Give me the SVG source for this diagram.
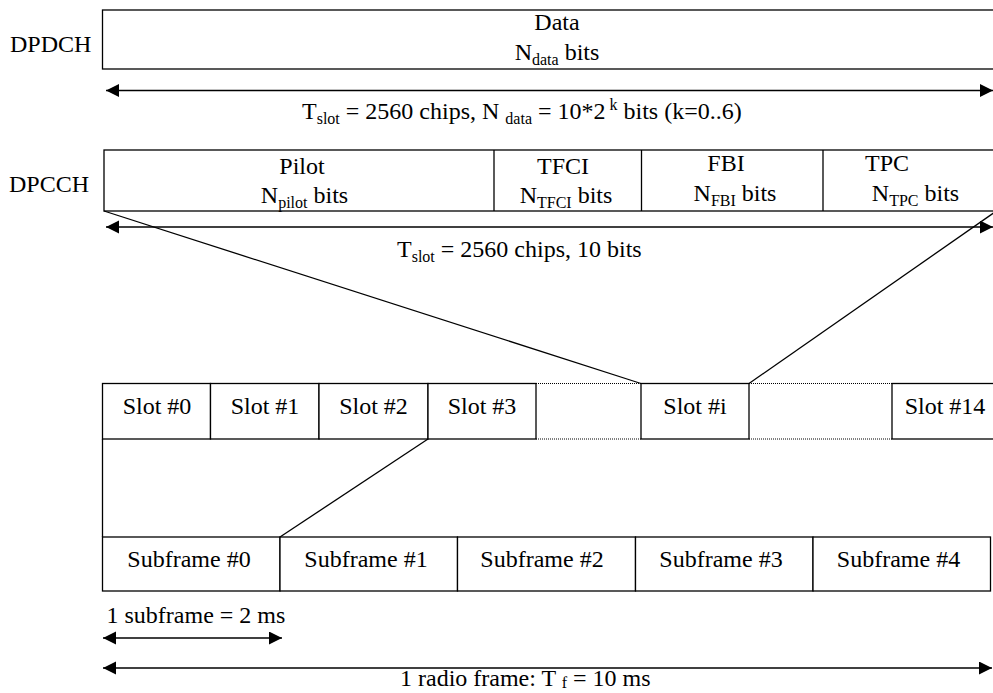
<svg xmlns="http://www.w3.org/2000/svg" width="993" height="693" viewBox="0 0 993 693">
<defs>
<style>
text{font-family:"Liberation Serif","Times New Roman",serif;font-size:24px;fill:#000}
.m{text-anchor:middle}
.box{fill:#fff;stroke:#000;stroke-width:1.3}
.ln{stroke:#000;stroke-width:1.3;fill:none}
.dot{stroke:#000;stroke-width:1;stroke-dasharray:1 1;fill:none}
.arr{stroke:#000;stroke-width:1.3;fill:none;marker-start:url(#ah);marker-end:url(#ah)}
</style>
<marker id="ah" markerUnits="userSpaceOnUse" markerWidth="14" markerHeight="14" refX="13" refY="6.5" orient="auto-start-reverse">
<path d="M0,0 L13,6.5 L0,13 z" fill="#000"/>
</marker>
</defs>
<rect width="993" height="693" fill="#fff"/>

<g id="dpdch">
<text x="10" y="52">DPDCH</text>
<rect class="box" x="102.5" y="10" width="910" height="59"/>
<text class="m" x="557" y="30">Data</text>
<text class="m" x="557" y="60">N<tspan font-size="16" dy="5">data</tspan><tspan dy="-5"> bits</tspan></text>
</g>

<g id="dpcch">
<text x="9" y="192">DPCCH</text>
<rect class="box" x="104" y="150" width="910" height="61"/>
<line class="ln" x1="494" y1="150" x2="494" y2="211"/>
<line class="ln" x1="641.5" y1="150" x2="641.5" y2="211"/>
<line class="ln" x1="823" y1="150" x2="823" y2="211"/>
<text class="m" x="302" y="174">Pilot</text>
<text class="m" x="304.5" y="203">N<tspan font-size="16" dy="5">pilot</tspan><tspan dy="-5"> bits</tspan></text>
<text class="m" x="563" y="174">TFCI</text>
<text class="m" x="566" y="203">N<tspan font-size="16" dy="5">TFCI</tspan><tspan dy="-5"> bits</tspan></text>
<text class="m" x="726" y="171">FBI</text>
<text class="m" x="735" y="201">N<tspan font-size="16" dy="5">FBI</tspan><tspan dy="-5"> bits</tspan></text>
<text class="m" x="887" y="171">TPC</text>
<text class="m" x="915.5" y="201">N<tspan font-size="16" dy="5">TPC</tspan><tspan dy="-5"> bits</tspan></text>
</g>

<g id="slots">
<rect class="box" x="102.5" y="383.5" width="108" height="55.5"/>
<rect class="box" x="210.5" y="383.5" width="108.5" height="55.5"/>
<rect class="box" x="319" y="383.5" width="109" height="55.5"/>
<rect class="box" x="428" y="383.5" width="108" height="55.5"/>
<rect class="box" x="641" y="383.5" width="108" height="55.5"/>
<rect class="box" x="892" y="383.5" width="110" height="55.5"/>
<line class="dot" x1="536" y1="383.5" x2="641" y2="383.5"/>
<line class="dot" x1="536" y1="439" x2="641" y2="439"/>
<line class="dot" x1="749" y1="383.5" x2="892" y2="383.5"/>
<line class="dot" x1="749" y1="439" x2="892" y2="439"/>
<text class="m" x="157" y="414">Slot #0</text>
<text class="m" x="265" y="414">Slot #1</text>
<text class="m" x="373.5" y="414">Slot #2</text>
<text class="m" x="482" y="414">Slot #3</text>
<text class="m" x="695" y="414">Slot #i</text>
<text class="m" x="945" y="414">Slot #14</text>
</g>

<g id="subframes">
<rect class="box" x="102.5" y="537" width="177.5" height="54"/>
<rect class="box" x="280" y="537" width="177.5" height="54"/>
<rect class="box" x="457.5" y="537" width="178" height="54"/>
<rect class="box" x="635.5" y="537" width="177.5" height="54"/>
<rect class="box" x="813" y="537" width="177.5" height="54"/>
<text class="m" x="189" y="567">Subframe #0</text>
<text class="m" x="366" y="567">Subframe #1</text>
<text class="m" x="542" y="567">Subframe #2</text>
<text class="m" x="721" y="567">Subframe #3</text>
<text class="m" x="898.5" y="567">Subframe #4</text>
</g>

<g id="connectors">
<line class="arr" x1="106" y1="90.5" x2="993" y2="90.5"/>
<line class="arr" x1="106" y1="227" x2="993" y2="227"/>
<line class="ln" x1="104" y1="211" x2="641" y2="383.5"/>
<line class="ln" x1="749" y1="383.5" x2="995" y2="212"/>
<line class="ln" x1="102.5" y1="439" x2="102.5" y2="537"/>
<line class="ln" x1="428" y1="439" x2="280" y2="537"/>
<line class="arr" x1="103" y1="638" x2="282" y2="638"/>
<line class="arr" x1="103" y1="668" x2="992" y2="668"/>
</g>

<g id="labels">
<text x="302" y="119">T<tspan font-size="16" dy="5">slot</tspan><tspan dy="-5"> = 2560 chips, N </tspan><tspan font-size="16" dy="5">data</tspan><tspan dy="-5"> = 10*2</tspan><tspan font-size="16" dy="-9"> k</tspan><tspan dy="9"> bits (k=0..6)</tspan></text>
<text x="397" y="257">T<tspan font-size="16" dy="5">slot</tspan><tspan dy="-5"> = 2560 chips, 10 bits</tspan></text>
<text x="106.5" y="623">1 subframe = 2 ms</text>
<text x="400" y="686">1 radio frame: T <tspan font-size="16" dy="2">f</tspan><tspan dy="-2"> = 10 ms</tspan></text>
</g>
</svg>
